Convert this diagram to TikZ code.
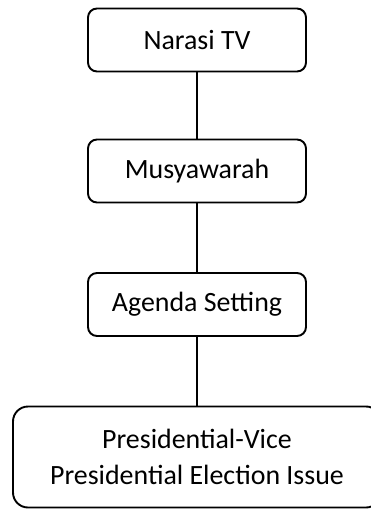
\documentclass[tikz,border=0pt]{standalone}
\usepackage{fontspec}
\setmainfont{Carlito}
\begin{document}
\begin{tikzpicture}[x=1bp, y=-1bp,
    kotak/.style={draw, line width=1.9bp, rounded corners=9bp, minimum width=218bp,
        minimum height=63bp, inner sep=0pt, align=center, font=\fontsize{28}{36}\selectfont},
    garis/.style={line width=1.9bp}]
    \useasboundingbox (0,0) rectangle (370,510);

    % Kotak
    \node[kotak] (narasi) at (197,40) {Narasi TV};
    \node[kotak] (musyawarah) at (197,171) {Musyawarah};
    \node[kotak] (agenda) at (197,304.5) {Agenda Setting};
    \node[kotak, minimum width=368bp, minimum height=101bp, rounded corners=15bp] (isu) at (197,457)
        {Presidential-Vice\\Presidential Election Issue};

    % Garis penghubung
    \draw[garis] (narasi) -- (musyawarah);
    \draw[garis] (musyawarah) -- (agenda);
    \draw[garis] (agenda) -- (isu);
\end{tikzpicture}
\end{document}
